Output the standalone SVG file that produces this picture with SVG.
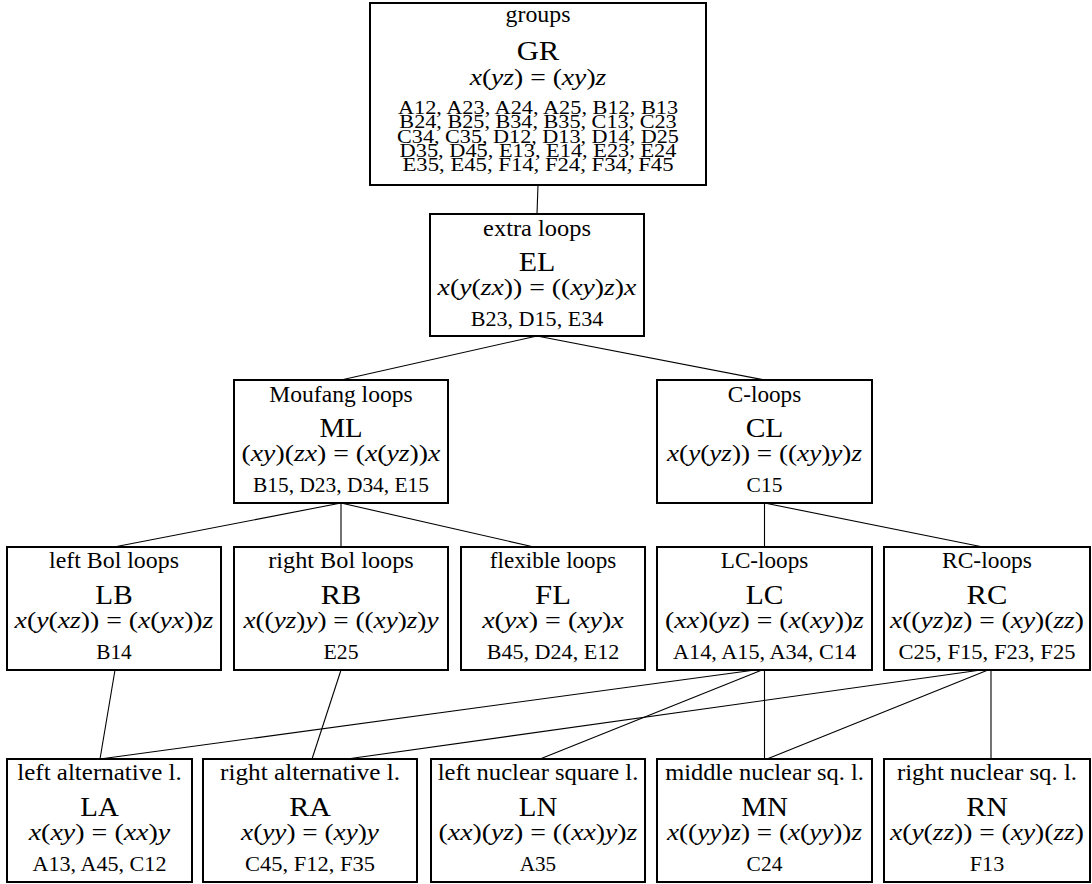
<svg xmlns="http://www.w3.org/2000/svg" width="1092" height="884" viewBox="0 0 1092 884" style="font-family:'Liberation Serif',serif">
<style>
.box{fill:#fff;stroke:#000;stroke-width:2}
text{fill:#000;text-anchor:middle}
.ti{font-size:22.4px}
.lb{font-size:28px}
.f{font-size:23px}
.c{font-size:20.8px}
.g{font-size:18px}
.i{font-style:italic}
#edges line{stroke:#000;stroke-width:1.1}
</style>
<rect width="1092" height="884" fill="#fff"/>
<g id="edges">
<line x1="538" y1="185" x2="537" y2="214"/>
<line x1="537" y1="336" x2="341" y2="380"/>
<line x1="537" y1="336" x2="764.5" y2="380"/>
<line x1="341" y1="503" x2="114" y2="547"/>
<line x1="341" y1="503" x2="341" y2="547"/>
<line x1="341" y1="503" x2="534" y2="547"/>
<line x1="764.5" y1="503" x2="764.5" y2="547"/>
<line x1="764.5" y1="503" x2="983" y2="547"/>
<line x1="115" y1="670" x2="100" y2="759"/>
<line x1="341" y1="670" x2="312" y2="759"/>
<line x1="755" y1="670" x2="100" y2="759"/>
<line x1="762" y1="670" x2="540" y2="759"/>
<line x1="764.5" y1="670" x2="764.5" y2="759"/>
<line x1="981" y1="670" x2="347" y2="759"/>
<line x1="988" y1="670" x2="767" y2="759"/>
<line x1="991" y1="670" x2="991" y2="759"/>
</g>
<g id="GR" style="font-family:'Liberation Serif',serif">
<rect class="box" x="370" y="3" width="336" height="182"/>
<text class="ti" x="538" y="22" textLength="64.9" lengthAdjust="spacingAndGlyphs">groups</text>
<text class="lb" x="538" y="60" textLength="42.6" lengthAdjust="spacingAndGlyphs">GR</text>
<text class="f" x="538" y="85" textLength="136.7" lengthAdjust="spacingAndGlyphs"><tspan class="i">x</tspan>(<tspan class="i">yz</tspan>) = (<tspan class="i">xy</tspan>)<tspan class="i">z</tspan></text>
<text class="g" x="538" y="114" textLength="280.2" lengthAdjust="spacingAndGlyphs">A12, A23, A24, A25, B12, B13</text>
<text class="g" x="538" y="128.3" textLength="277.3" lengthAdjust="spacingAndGlyphs">B24, B25, B34, B35, C13, C23</text>
<text class="g" x="538" y="142.6" textLength="281.9" lengthAdjust="spacingAndGlyphs">C34, C35, D12, D13, D14, D25</text>
<text class="g" x="538" y="156.9" textLength="276.8" lengthAdjust="spacingAndGlyphs">D35, D45, E13, E14, E23, E24</text>
<text class="g" x="538" y="171.2" textLength="271" lengthAdjust="spacingAndGlyphs">E35, E45, F14, F24, F34, F45</text>
</g>
<g id="EL" style="font-family:'Liberation Serif',serif">
<rect class="box" x="430" y="214" width="214" height="122"/>
<text class="ti" x="537" y="236" textLength="107.8" lengthAdjust="spacingAndGlyphs">extra loops</text>
<text class="lb" x="537" y="271" textLength="36.6" lengthAdjust="spacingAndGlyphs">EL</text>
<text class="f" x="537" y="295" textLength="198.8" lengthAdjust="spacingAndGlyphs"><tspan class="i">x</tspan>(<tspan class="i">y</tspan>(<tspan class="i">zx</tspan>)) = ((<tspan class="i">xy</tspan>)<tspan class="i">z</tspan>)<tspan class="i">x</tspan></text>
<text class="c" x="537" y="325.5" textLength="132.6" lengthAdjust="spacingAndGlyphs">B23, D15, E34</text>
</g>
<g id="ML" style="font-family:'Liberation Serif',serif">
<rect class="box" x="234" y="380" width="214" height="123"/>
<text class="ti" x="341" y="402" textLength="143.3" lengthAdjust="spacingAndGlyphs">Moufang loops</text>
<text class="lb" x="341" y="437" textLength="43.2" lengthAdjust="spacingAndGlyphs">ML</text>
<text class="f" x="341" y="461" textLength="198.8" lengthAdjust="spacingAndGlyphs">(<tspan class="i">xy</tspan>)(<tspan class="i">zx</tspan>) = (<tspan class="i">x</tspan>(<tspan class="i">yz</tspan>))<tspan class="i">x</tspan></text>
<text class="c" x="341" y="491.5" textLength="176" lengthAdjust="spacingAndGlyphs">B15, D23, D34, E15</text>
</g>
<g id="CL" style="font-family:'Liberation Serif',serif">
<rect class="box" x="657" y="380" width="215" height="123"/>
<text class="ti" x="764.5" y="402" textLength="73.5" lengthAdjust="spacingAndGlyphs">C-loops</text>
<text class="lb" x="764.5" y="437" textLength="37.7" lengthAdjust="spacingAndGlyphs">CL</text>
<text class="f" x="764.5" y="461" textLength="195" lengthAdjust="spacingAndGlyphs"><tspan class="i">x</tspan>(<tspan class="i">y</tspan>(<tspan class="i">yz</tspan>)) = ((<tspan class="i">xy</tspan>)<tspan class="i">y</tspan>)<tspan class="i">z</tspan></text>
<text class="c" x="764.5" y="491.5" textLength="35.8" lengthAdjust="spacingAndGlyphs">C15</text>
</g>
<g id="LB" style="font-family:'Liberation Serif',serif">
<rect class="box" x="7" y="547" width="214" height="123"/>
<text class="ti" x="114" y="568" textLength="129.9" lengthAdjust="spacingAndGlyphs">left Bol loops</text>
<text class="lb" x="114" y="604" textLength="37.3" lengthAdjust="spacingAndGlyphs">LB</text>
<text class="f" x="114" y="628" textLength="198.8" lengthAdjust="spacingAndGlyphs"><tspan class="i">x</tspan>(<tspan class="i">y</tspan>(<tspan class="i">xz</tspan>)) = (<tspan class="i">x</tspan>(<tspan class="i">yx</tspan>))<tspan class="i">z</tspan></text>
<text class="c" x="114" y="658.5" textLength="35.5" lengthAdjust="spacingAndGlyphs">B14</text>
</g>
<g id="RB" style="font-family:'Liberation Serif',serif">
<rect class="box" x="234" y="547" width="214" height="123"/>
<text class="ti" x="341" y="568" textLength="145.5" lengthAdjust="spacingAndGlyphs">right Bol loops</text>
<text class="lb" x="341" y="604" textLength="40.4" lengthAdjust="spacingAndGlyphs">RB</text>
<text class="f" x="341" y="628" textLength="195" lengthAdjust="spacingAndGlyphs"><tspan class="i">x</tspan>((<tspan class="i">yz</tspan>)<tspan class="i">y</tspan>) = ((<tspan class="i">xy</tspan>)<tspan class="i">z</tspan>)<tspan class="i">y</tspan></text>
<text class="c" x="341" y="658.5" textLength="35" lengthAdjust="spacingAndGlyphs">E25</text>
</g>
<g id="FL" style="font-family:'Liberation Serif',serif">
<rect class="box" x="461" y="547" width="184" height="123"/>
<text class="ti" x="553" y="568" textLength="126.4" lengthAdjust="spacingAndGlyphs">flexible loops</text>
<text class="lb" x="553" y="604" textLength="35.8" lengthAdjust="spacingAndGlyphs">FL</text>
<text class="f" x="553" y="628" textLength="141.6" lengthAdjust="spacingAndGlyphs"><tspan class="i">x</tspan>(<tspan class="i">yx</tspan>) = (<tspan class="i">xy</tspan>)<tspan class="i">x</tspan></text>
<text class="c" x="553" y="658.5" textLength="132.6" lengthAdjust="spacingAndGlyphs">B45, D24, E12</text>
</g>
<g id="LC" style="font-family:'Liberation Serif',serif">
<rect class="box" x="657" y="547" width="215" height="123"/>
<text class="ti" x="764.5" y="568" textLength="87.5" lengthAdjust="spacingAndGlyphs">LC-loops</text>
<text class="lb" x="764.5" y="604" textLength="37.7" lengthAdjust="spacingAndGlyphs">LC</text>
<text class="f" x="764.5" y="628" textLength="198.8" lengthAdjust="spacingAndGlyphs">(<tspan class="i">xx</tspan>)(<tspan class="i">yz</tspan>) = (<tspan class="i">x</tspan>(<tspan class="i">xy</tspan>))<tspan class="i">z</tspan></text>
<text class="c" x="764.5" y="658.5" textLength="183.1" lengthAdjust="spacingAndGlyphs">A14, A15, A34, C14</text>
</g>
<g id="RC" style="font-family:'Liberation Serif',serif">
<rect class="box" x="884" y="547" width="206" height="123"/>
<text class="ti" x="987" y="568" textLength="90" lengthAdjust="spacingAndGlyphs">RC-loops</text>
<text class="lb" x="987" y="604" textLength="40.8" lengthAdjust="spacingAndGlyphs">RC</text>
<text class="f" x="987" y="628" textLength="193.9" lengthAdjust="spacingAndGlyphs"><tspan class="i">x</tspan>((<tspan class="i">yz</tspan>)<tspan class="i">z</tspan>) = (<tspan class="i">xy</tspan>)(<tspan class="i">zz</tspan>)</text>
<text class="c" x="987" y="658.5" textLength="177.1" lengthAdjust="spacingAndGlyphs">C25, F15, F23, F25</text>
</g>
<g id="LA" style="font-family:'Liberation Serif',serif">
<rect class="box" x="7" y="759" width="185" height="123"/>
<text class="ti" x="99.5" y="780" textLength="164.3" lengthAdjust="spacingAndGlyphs">left alternative l.</text>
<text class="lb" x="99.5" y="816" textLength="38.5" lengthAdjust="spacingAndGlyphs">LA</text>
<text class="f" x="99.5" y="840" textLength="141.6" lengthAdjust="spacingAndGlyphs"><tspan class="i">x</tspan>(<tspan class="i">xy</tspan>) = (<tspan class="i">xx</tspan>)<tspan class="i">y</tspan></text>
<text class="c" x="99.5" y="870.5" textLength="134" lengthAdjust="spacingAndGlyphs">A13, A45, C12</text>
</g>
<g id="RA" style="font-family:'Liberation Serif',serif">
<rect class="box" x="203" y="759" width="214" height="123"/>
<text class="ti" x="310" y="780" textLength="180" lengthAdjust="spacingAndGlyphs">right alternative l.</text>
<text class="lb" x="310" y="816" textLength="41.6" lengthAdjust="spacingAndGlyphs">RA</text>
<text class="f" x="310" y="840" textLength="137.8" lengthAdjust="spacingAndGlyphs"><tspan class="i">x</tspan>(<tspan class="i">yy</tspan>) = (<tspan class="i">xy</tspan>)<tspan class="i">y</tspan></text>
<text class="c" x="310" y="870.5" textLength="130" lengthAdjust="spacingAndGlyphs">C45, F12, F35</text>
</g>
<g id="LN" style="font-family:'Liberation Serif',serif">
<rect class="box" x="431" y="759" width="214" height="123"/>
<text class="ti" x="538" y="780" textLength="200.6" lengthAdjust="spacingAndGlyphs">left nuclear square l.</text>
<text class="lb" x="538" y="816" textLength="38.5" lengthAdjust="spacingAndGlyphs">LN</text>
<text class="f" x="538" y="840" textLength="198.8" lengthAdjust="spacingAndGlyphs">(<tspan class="i">xx</tspan>)(<tspan class="i">yz</tspan>) = ((<tspan class="i">xx</tspan>)<tspan class="i">y</tspan>)<tspan class="i">z</tspan></text>
<text class="c" x="538" y="870.5" textLength="36.4" lengthAdjust="spacingAndGlyphs">A35</text>
</g>
<g id="MN" style="font-family:'Liberation Serif',serif">
<rect class="box" x="657" y="759" width="215" height="123"/>
<text class="ti" x="764.5" y="780" textLength="198.7" lengthAdjust="spacingAndGlyphs">middle nuclear sq. l.</text>
<text class="lb" x="764.5" y="816" textLength="46.7" lengthAdjust="spacingAndGlyphs">MN</text>
<text class="f" x="764.5" y="840" textLength="195" lengthAdjust="spacingAndGlyphs"><tspan class="i">x</tspan>((<tspan class="i">yy</tspan>)<tspan class="i">z</tspan>) = (<tspan class="i">x</tspan>(<tspan class="i">yy</tspan>))<tspan class="i">z</tspan></text>
<text class="c" x="764.5" y="870.5" textLength="35.8" lengthAdjust="spacingAndGlyphs">C24</text>
</g>
<g id="RN" style="font-family:'Liberation Serif',serif">
<rect class="box" x="884" y="759" width="206" height="123"/>
<text class="ti" x="987" y="780" textLength="180.1" lengthAdjust="spacingAndGlyphs">right nuclear sq. l.</text>
<text class="lb" x="987" y="816" textLength="41.6" lengthAdjust="spacingAndGlyphs">RN</text>
<text class="f" x="987" y="840" textLength="193.9" lengthAdjust="spacingAndGlyphs"><tspan class="i">x</tspan>(<tspan class="i">y</tspan>(<tspan class="i">zz</tspan>)) = (<tspan class="i">xy</tspan>)(<tspan class="i">zz</tspan>)</text>
<text class="c" x="987" y="870.5" textLength="34.4" lengthAdjust="spacingAndGlyphs">F13</text>
</g>
</svg>
